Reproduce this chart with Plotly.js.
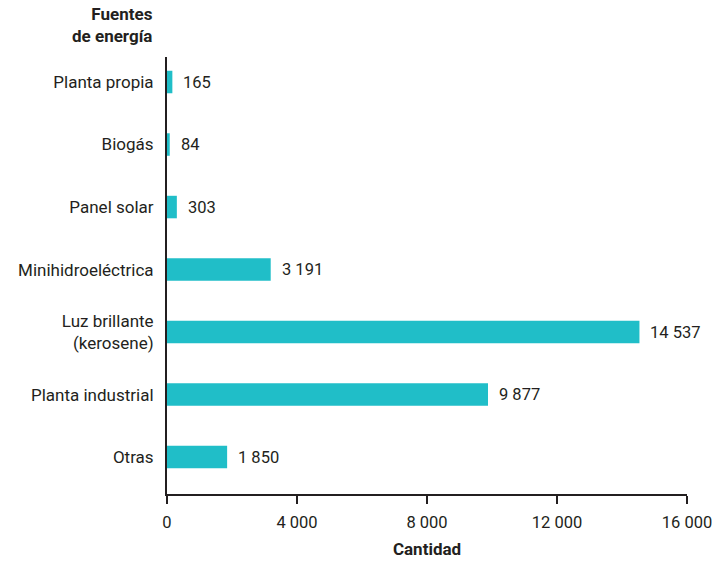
<!DOCTYPE html>
<html><head><meta charset="utf-8">
<script src="https://cdn.plot.ly/plotly-3.0.1.min.js"></script>
<style>body{margin:0;background:#fff}#c{width:719px;height:563px}</style>
</head><body><div id="c"></div>
<script>
const categories = ["Planta propia","Biogás","Panel solar","Minihidroeléctrica","Luz brillante<br>(kerosene)","Planta industrial","Otras"];
const values = [165, 84, 303, 3191, 14537, 9877, 1850];
const tickValues = [0, 4000, 8000, 12000, 16000];

const FONT = 'Roboto, "Liberation Sans", sans-serif';
const INK = '#231f20';

const fmt = v => v.toString().replace(/\B(?=(\d{3})+(?!\d))/g, ' ');

const annotations = categories.map((c, i) => ({
  x: values[i], y: c, xref: 'x', yref: 'y', text: fmt(values[i]),
  showarrow: false, xanchor: 'left', xshift: 9,
  font: {family: FONT, size: 16.5, color: INK}
}));
annotations.push({
  xref: 'paper', yref: 'paper', x: -0.023, y: 1.0, yshift: 55, xanchor: 'right', yanchor: 'top', align: 'right',
  text: '<b>Fuentes<br>de energía</b>', showarrow: false,
  font: {family: FONT, size: 17, color: INK}
});

Plotly.newPlot('c', [{
  type: 'bar', orientation: 'h', x: values, y: categories,
  marker: {color: '#20bec8', line: {width: 0}}, width: 0.36,
  hoverinfo: 'skip'
}], {
  width: 719, height: 563,
  margin: {l: 167, r: 32, t: 57, b: 69},
  paper_bgcolor: '#fff', plot_bgcolor: '#fff',
  separators: ', ',
  font: {family: FONT, size: 17, color: INK},
  showlegend: false,
  xaxis: {
    range: [0, 16000], tickvals: tickValues, tickformat: ',d',
    showgrid: false, zeroline: false, showline: true, linecolor: INK, linewidth: 2,
    ticks: 'outside', ticklen: 8, tickwidth: 2, tickcolor: INK, ticklabelstandoff: 4,
    tickfont: {family: FONT, size: 16.5, color: INK},
    title: {text: '<b>Cantidad</b>', font: {family: FONT, size: 17, color: INK}, standoff: 12}
  },
  yaxis: {
    type: 'category', categoryarray: categories, range: [6.59, -0.4],
    showgrid: false, zeroline: false, showline: true, linecolor: INK, linewidth: 2,
    ticks: '', ticklabelstandoff: 8,
    tickfont: {family: FONT, size: 17, color: INK}
  },
  annotations: annotations
}, {staticPlot: true});
</script></body></html>
